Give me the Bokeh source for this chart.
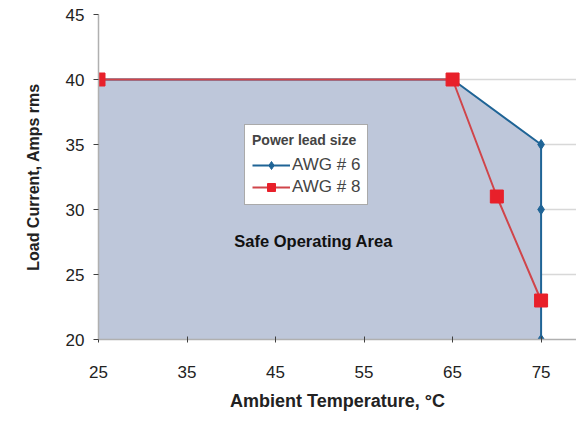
from bokeh.plotting import figure
from bokeh.models import Range1d, Label, FixedTicker, Legend, LegendItem, Title
from bokeh.embed import file_html
from bokeh.resources import INLINE

# Data
awg6_temp = [25, 65, 75, 75, 75]
awg6_current = [40, 40, 35, 30, 20]
awg8_temp = [25, 65, 70, 75]
awg8_current = [40, 40, 31, 23]
soa_temp = [25, 25, 65, 75, 75]
soa_current = [20, 40, 40, 35, 20]
x_ticks = [25, 35, 45, 55, 65, 75]
y_ticks = [20, 25, 30, 35, 40, 45]
x_title = "Ambient Temperature, °C"
y_title = "Load Current, Amps rms"
area_label = "Safe Operating Area"

FONT = "Liberation Sans"

p = figure(width=576, height=420, output_backend="svg", toolbar_location=None,
           x_range=Range1d(25, 79.0), y_range=Range1d(20, 45),
           min_border_left=98, min_border_right=0, min_border_top=14, min_border_bottom=81)
p.outline_line_color = None
p.background_fill_color = "white"
p.border_fill_color = "white"

# Safe operating area
p.patch(soa_temp, soa_current, fill_color="#BEC7DA", line_color=None)

# Series
r6l = p.line(awg6_temp, awg6_current, line_color="#1F6496", line_width=2)
r6m = p.scatter(awg6_temp, awg6_current, marker="diamond", size=10,
                fill_color="#1F6496", line_color="#1F6496")
r8l = p.line(awg8_temp, awg8_current, line_color="#D0454A", line_width=2)
r8m = p.scatter(awg8_temp, awg8_current, marker="square", size=13,
                fill_color="#E8202A", line_color="#E8202A")

# Axes
p.xaxis.ticker = FixedTicker(ticks=x_ticks)
p.yaxis.ticker = FixedTicker(ticks=y_ticks)
p.xgrid.grid_line_color = None
p.ygrid.ticker = FixedTicker(ticks=y_ticks)
p.ygrid.grid_line_color = "#D8D8D8"
p.ygrid.grid_line_width = 1.5

for ax in (p.xaxis, p.yaxis):
    ax.axis_line_color = "#B0B0B0"
    ax.axis_line_width = 1.5
    ax.major_tick_line_color = "#404040"
    ax.minor_tick_line_color = None
    ax.major_label_text_font = FONT
    ax.major_label_text_font_size = "17px"
    ax.major_label_text_color = "#222222"

p.xaxis.major_tick_in = 3
p.xaxis.major_tick_out = 3
p.xaxis.major_label_standoff = 23

p.yaxis.major_tick_in = 0
p.yaxis.major_tick_out = 5
p.yaxis.major_label_standoff = 9

# Axis titles (off-centre, as in the original)
p.add_layout(Title(text=x_title, align="center", offset=-18, standoff=16,
                   text_font=FONT, text_font_size="18px", text_font_style="bold",
                   text_color="#222222"), "below")
p.add_layout(Title(text=y_title, align="center", offset=17, standoff=42,
                   text_font=FONT, text_font_size="16px", text_font_style="bold",
                   text_color="#222222"), "left")

# Annotation
p.add_layout(Label(x=49.3, y=27.6, text=area_label, text_font=FONT,
                   text_font_size="16.5px", text_font_style="bold", text_color="#111111",
                   text_align="center", text_baseline="middle"))

legend = Legend(items=[LegendItem(label="AWG # 6", renderers=[r6l, r6m]),
                       LegendItem(label="AWG # 8", renderers=[r8l, r8m])],
                location=(146, 134), title="Power lead size")
legend.title_text_font = FONT
legend.title_text_font_style = "bold"
legend.title_text_font_size = "14px"
legend.title_standoff = 7
legend.label_text_font = FONT
legend.label_text_font_size = "17px"
legend.border_line_color = "#555555"
legend.border_line_width = 1
legend.background_fill_color = "white"
legend.background_fill_alpha = 1
legend.padding = 7
legend.spacing = 2
legend.glyph_width = 38
legend.label_standoff = 2
legend.margin = 0
p.add_layout(legend, "center")

open("out.html", "w").write(file_html(p, INLINE))
